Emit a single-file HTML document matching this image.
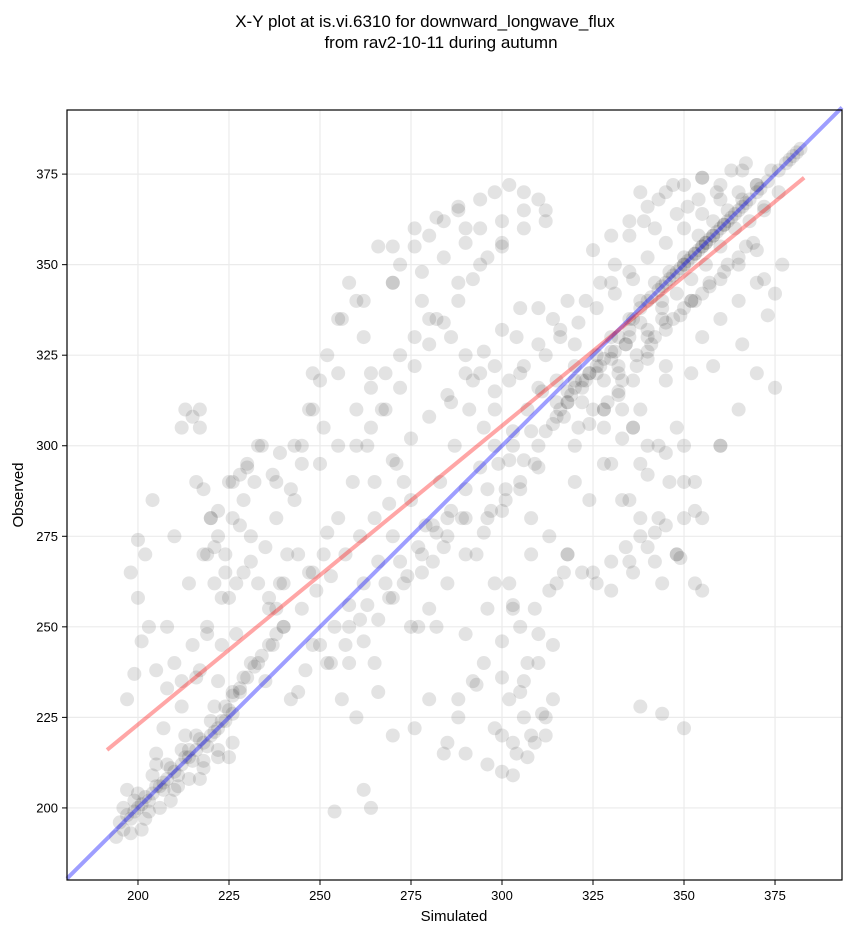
<!DOCTYPE html>
<html><head><meta charset="utf-8"><style>
html,body{margin:0;padding:0;background:#fff;}
svg{display:block;font-family:"Liberation Sans","DejaVu Sans",sans-serif;}
</style></head><body>
<svg id="chart" width="851" height="934" viewBox="0 0 851 934">
<text x="425" y="27" font-size="17" text-anchor="middle">X-Y plot at is.vi.6310 for downward_longwave_flux</text>
<text x="441" y="48" font-size="17" text-anchor="middle">from rav2-10-11 during autumn</text>
<g id="grid"></g>
<g id="pts"></g>
<g id="lines"></g>
<rect x="67" y="110" width="775" height="770" fill="none" stroke="#000" stroke-width="1.2"/>
<g id="ticks"></g>
<text x="454" y="921" font-size="15" text-anchor="middle">Simulated</text>
<text x="23" y="495" font-size="15" text-anchor="middle" transform="rotate(-90 23 495)">Observed</text>
</svg>
<script>
const xTicks=[200,225,250,275,300,325,350,375];
const yTicks=[200,225,250,275,300,325,350,375];
const redLine=[[191.5,216],[383,374]];
const simX=[195,197,199,200,202,204,206,208,210,212,214,216,218,220,222,224,226,196,198,201,203,205,207,209,211,213,215,217,219,221,223,225,199,203,207,211,214,218,222,226,228,230,232,234,236,238,240,
208,212,216,210,218,222,225,228,214,220,224,230,233,212,217,221,226,229,215,219,223,227,231,235,238,242,245,236,240,244,248,252,238,243,247,251,255,
242,246,250,254,258,262,266,270,245,249,253,257,261,265,269,273,250,255,260,264,268,272,276,280,252,258,263,268,272,277,281,285,248,256,262,270,278,284,290,
258,262,266,270,274,278,282,286,290,294,298,260,264,268,272,276,280,284,288,292,296,300,265,270,275,280,285,290,295,300,305,270,276,282,288,294,300,306,
275,280,285,290,295,300,305,310,278,284,290,296,302,308,286,292,298,304,310,288,294,300,306,312,290,296,302,308,
300,304,308,312,302,306,310,314,305,309,313,317,298,303,307,311,296,301,306,
310,314,318,322,326,330,312,316,320,324,328,332,315,319,323,327,331,335,318,322,326,330,334,338,320,324,328,332,336,340,316,321,326,331,336,
335,338,341,344,347,350,353,356,340,343,346,349,352,355,358,361,345,348,351,354,357,360,363,366,350,353,356,359,362,365,368,371,355,358,361,364,367,370,373,376,379,381,
340,345,350,355,360,365,370,342,348,354,360,366,372,338,344,330,335,340,345,350,355,360,365,370,375,332,337,342,347,352,357,362,367,372,377,
325,330,335,340,345,350,355,360,328,333,338,343,348,353,330,335,340,345,350,355,333,338,343,348,353,
335,340,345,350,355,336,342,348,338,344,350,
285,290,295,300,305,288,293,298,303,282,300,305,310,315,298,303,308,313,318,
325,330,335,340,345,320,328,336,344,352,360,365,370,
200,202,198,200,203,205,207,205,210,212,201,199,197,204,208,
213,215,217,216,218,220,222,224,226,228,230,232,234,221,219,225,229,233,236,238,240,231,227,223,219,217,222,226,231,235,237,239,241,237,243,239,
245,248,250,252,255,258,260,262,264,266,270,272,276,280,284,288,290,294,298,302,306,310,312,278,282,286,290,294,298,302,306,310,314,318,
247,251,255,259,263,267,271,275,279,283,287,291,295,299,303,307,311,253,257,261,265,269,273,277,281,285,289,293,297,301,305,309,
244,248,256,262,264,254,260,266,270,276,280,284,288,292,296,300,303,306,309,312,314,307,303,310,315,318,322,326,330,334,338,342,346,350,353,349,344,340,336,332,328,324,320,
315,318,320,322,324,326,328,330,332,334,336,338,340,342,344,346,348,350,352,354,356,358,360,362,364,366,368,370,372,374,376,378,380,382,
317,321,325,329,333,337,341,345,349,353,357,361,365,369,323,327,331,335,339,343,347,351,355,359,363,367,355,360,365,370,375,373,366,358,352,345,338,333,320,316,312,
194,196,198,200,202,204,206,208,210,212,214,216,218,220,222,224,226,228,197,201,205,209,213,217,221,225,229,233];
const obsY=[196,198,199,200,203,204,206,208,210,212,214,216,218,220,222,224,226,194,197,201,202,206,207,211,209,214,213,219,217,221,224,227,202,199,205,206,216,213,216,231,233,236,239,242,245,248,250,
233,228,236,275,270,282,290,278,262,280,265,294,300,305,310,272,290,285,245,250,258,262,268,272,280,288,295,255,262,270,265,276,290,300,310,305,320,
230,238,245,250,256,262,268,275,255,260,264,270,275,280,284,290,295,300,310,316,320,325,330,335,240,250,256,262,268,272,278,280,320,335,340,345,348,352,356,
240,246,252,258,264,270,276,282,288,294,300,300,305,310,316,322,328,334,340,346,352,356,290,296,302,308,314,320,326,332,338,355,360,363,366,360,362,365,
250,255,262,270,276,282,288,294,265,272,280,288,296,304,312,318,322,330,338,345,350,355,360,365,248,255,262,270,
210,215,220,225,230,235,240,245,250,255,260,265,222,218,214,226,280,288,296,
300,306,312,318,322,326,304,310,316,320,324,330,308,314,318,322,326,332,312,316,320,324,328,334,300,306,310,314,318,324,330,334,338,342,346,
335,338,341,344,347,350,353,356,340,343,346,349,352,355,358,361,345,348,351,354,357,360,363,366,350,353,356,359,362,365,368,371,355,358,361,364,367,370,373,376,379,381,
330,334,338,342,346,350,354,360,364,368,372,376,365,370,340,345,348,352,356,360,364,368,370,372,316,320,325,330,335,340,345,350,355,346,
350,354,358,362,366,370,372,374,300,305,310,295,300,305,290,295,285,292,298,290,280,285,275,280,270,
262,268,272,278,280,260,265,268,270,
228,226,222,218,215,240,236,232,230,234,262,256,250,246,320,316,312,310,304,
280,275,270,265,260,330,326,322,318,310,305,335,340,300,310,320,
274,270,265,258,250,238,222,215,240,235,246,237,230,285,250,
310,308,305,290,288,280,275,270,280,292,295,290,300,262,270,258,265,262,258,255,250,275,248,245,248,238,235,232,240,235,245,262,270,292,285,298,
300,310,318,325,335,345,340,330,320,355,345,350,355,358,362,365,360,368,370,372,370,368,362,340,335,330,325,320,315,318,322,328,335,340,
265,270,280,290,300,310,295,285,278,290,300,310,305,295,300,310,315,240,245,252,240,258,262,250,268,275,280,270,282,285,290,295,
232,245,230,205,200,199,225,232,220,222,230,215,225,235,212,220,209,225,218,220,230,240,255,248,262,270,265,262,268,272,280,276,290,300,282,269,262,300,305,315,295,285,290,
318,315,322,312,320,325,318,330,322,328,335,340,332,345,338,348,342,352,346,358,350,362,355,365,360,368,362,372,366,376,370,378,380,382,
308,305,310,312,318,322,328,332,336,340,344,348,352,356,340,345,350,358,362,368,372,366,374,370,376,378,330,335,340,345,342,336,328,322,320,318,310,302,328,332,325,
192,200,193,204,197,209,200,212,205,216,208,220,211,224,214,228,218,232,205,194,212,202,220,208,228,214,236,240];
const X0=180.5,X1=393.4,Y0=180.1,Y1=392.7,L=67,R=842,T=110,B=880;
const sx=v=>L+(v-X0)/(X1-X0)*(R-L);
const sy=v=>B-(v-Y0)/(Y1-Y0)*(B-T);
const NS='http://www.w3.org/2000/svg';
const mk=(t,a,p)=>{const e=document.createElementNS(NS,t);for(const k in a)e.setAttribute(k,a[k]);p.appendChild(e);return e;};
const grid=document.getElementById('grid'),ticks=document.getElementById('ticks');
xTicks.forEach(v=>{
 const g=mk('line',{x1:sx(v),x2:sx(v),y1:T,y2:B,stroke:'#ebebeb','stroke-width':1.2},grid);
 
 
 const t=mk('line',{x1:sx(v),x2:sx(v),y1:B,y2:B+5,stroke:'#000'},ticks);
 
 
 const l=mk('text',{x:sx(v),y:B+20,'font-size':13,'text-anchor':'middle'},ticks);l.textContent=v;
 
 
});
yTicks.forEach(v=>{
 const g=mk('line',{x1:L,x2:R,y1:sy(v),y2:sy(v),stroke:'#ebebeb','stroke-width':1.2},grid);
 
 
 const t=mk('line',{x1:L-5,x2:L,y1:sy(v),y2:sy(v),stroke:'#000'},ticks);
 
 
 const l=mk('text',{x:L-9,y:sy(v)+4.5,'font-size':13,'text-anchor':'end'},ticks);l.textContent=v;
 
 
});
const pts=document.getElementById('pts');
const n=Math.min(simX.length,obsY.length);
for(let i=0;i<n;i++){
 const c=mk('circle',{cx:sx(simX[i]),cy:sy(obsY[i]),r:7,fill:'#000','fill-opacity':0.11},pts);
 
 
}
const lines=document.getElementById('lines');
const bl=mk('line',{x1:L,y1:sy(X0),x2:R,y2:sy(X1),stroke:'#0000ff','stroke-opacity':0.38,'stroke-width':4},lines);


const rl=mk('line',{x1:sx(redLine[0][0]),y1:sy(redLine[0][1]),x2:sx(redLine[1][0]),y2:sy(redLine[1][1]),stroke:'#ff0000','stroke-opacity':0.35,'stroke-width':4},lines);


</script>
</body></html>
